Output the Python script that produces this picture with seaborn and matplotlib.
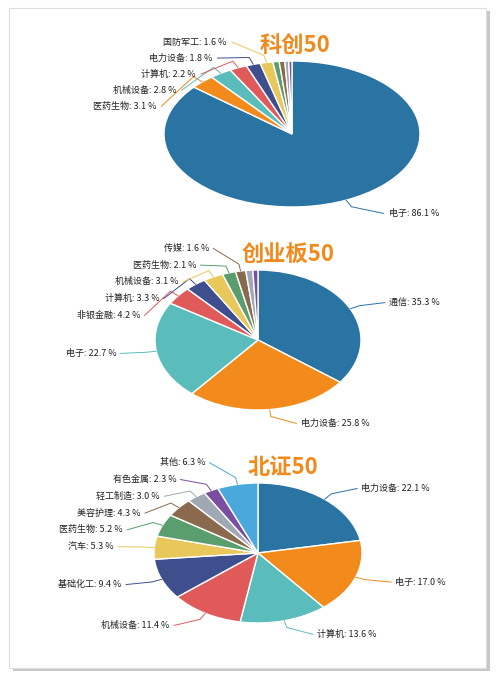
import numpy as np
import matplotlib
matplotlib.use("Agg")
import matplotlib.pyplot as plt
import seaborn as sns
from matplotlib.patches import Rectangle

sns.set_theme(style="white")
plt.rcParams['font.family'] = ['Noto Sans CJK SC', 'DejaVu Sans']

palette = ['#2a74a4', '#f28a1c', '#5bbcbc', '#e05a5a', '#3f4e8c', '#e8c85a',
           '#5a9e6e', '#8a6a4e', '#a0a8b4', '#7a4ea0', '#4aa8dc']

kc_labels = ['电子', '医药生物', '机械设备', '计算机', '电力设备', '国防军工', '', '', '', '']
kc_values = [86.1, 3.1, 2.8, 2.2, 1.8, 1.6, 0.8, 0.7, 0.5, 0.4]

cy_labels = ['通信', '电力设备', '电子', '非银金融', '计算机', '机械设备', '医药生物', '传媒', '', '']
cy_values = [35.3, 25.8, 22.7, 4.2, 3.3, 3.1, 2.1, 1.6, 1.1, 0.8]

bz_labels = ['电力设备', '电子', '计算机', '机械设备', '基础化工', '汽车', '医药生物',
             '美容护理', '轻工制造', '有色金属', '其他']
bz_values = [22.1, 17.0, 13.6, 11.4, 9.4, 5.3, 5.2, 4.3, 3.0, 2.3, 6.3]

W, H = 497, 677
fig = plt.figure(figsize=(W / 100, H / 100), dpi=100)
fig.patch.set_facecolor('white')

bg = fig.add_axes([0, 0, 1, 1]); bg.set_xlim(0, W); bg.set_ylim(H, 0); bg.axis('off')
bg.add_patch(Rectangle((13, 11), 477, 660, facecolor='#c8c8c8', edgecolor='none'))
bg.add_patch(Rectangle((9, 8), 477, 660, facecolor='white', edgecolor='#dddddd', lw=0.8))

def draw(labels, values, cx, cy, rx, ry, title, tpos, min_gap, cap):
    ax = fig.add_axes([0, 0, 1, 1])
    ax.patch.set_alpha(0)
    wedges, _ = ax.pie(values, colors=palette[:len(values)], startangle=90, counterclock=False,
                       wedgeprops=dict(edgecolor='white', linewidth=1.0))
    ax.set_aspect('auto')
    ax.set_xlim((0 - cx) / rx, (W - cx) / rx)
    ax.set_ylim(-(H - cy) / ry, cy / ry)
    ax.axis('off')
    items = []
    for w, lab, v in zip(wedges, labels, values):
        if not lab:
            continue
        ang = np.deg2rad((w.theta1 + w.theta2) / 2)
        x, y = np.cos(ang), np.sin(ang)
        items.append([x, y, 1.2 * y, lab, v, w.get_facecolor()])
    for side in (1, -1):
        grp = sorted([it for it in items if (it[0] >= 0) == (side == 1)], key=lambda t: t[2])
        for i in range(1, len(grp)):
            if grp[i][2] - grp[i - 1][2] < min_gap:
                grp[i][2] = grp[i - 1][2] + min_gap
        if grp and grp[-1][2] > cap:
            grp[-1][2] = cap
            for i in range(len(grp) - 2, -1, -1):
                if grp[i + 1][2] - grp[i][2] < min_gap:
                    grp[i][2] = grp[i + 1][2] - min_gap
        for x, y, ly, lab, v, col in grp:
            sx = 1 if x >= 0 else -1
            lx = sx * (abs(x) * 1.1 + 0.25)
            my = y * 1.1 if abs(ly - y * 1.1) < 0.5 else ly
            ax.plot([x, x * 1.1, lx], [y, my, ly], color=col, lw=0.7)
            ax.text(lx + sx * 0.04, ly, f'{lab}: {v:.1f} %', fontsize=6.5,
                    ha='left' if sx > 0 else 'right', va='center', color='#222222')
    fig.text(tpos[0] / W, 1 - tpos[1] / H, title, fontsize=16, fontweight='bold',
             color='#f08a1c', ha='center', va='center')

draw(kc_labels, kc_values, 292, 134, 128, 73, '科创50', (295, 45), 0.22, 1.26)
draw(cy_labels, cy_values, 258, 340, 103, 70, '创业板50', (288, 255), 0.24, 1.31)
draw(bz_labels, bz_values, 258, 553, 104, 70, '北证50', (283, 468), 0.24, 1.29)

fig.savefig('out.png', dpi=100, facecolor='white')
